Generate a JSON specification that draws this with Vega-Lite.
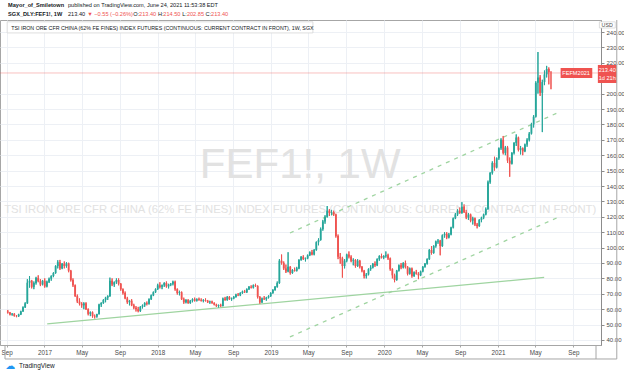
{
"$schema": "https://vega.github.io/schema/vega-lite/v6.json",
"width": 601, "height": 325,
"autosize": "none",
"padding": {"top": 20, "left": 0, "right": 23, "bottom": 30},
"background": "white",
"config": {
"view": {"stroke": "#a6a6a6"}, "font": "Liberation Sans",
"axisY": {"grid": true, "gridColor": "#edf0f5", "domainColor": "#8c8c8c", "tickColor": "#8c8c8c", "tickSize": 3, "labelFont": "Liberation Sans", "labelFontSize": 6, "labelColor": "#4a4a4a", "labelPadding": 2, "labelOverlap": false, "labelFlush": false},
"axisX": {"grid": true, "gridColor": "#edf0f5", "domainColor": "#a6a6a6", "tickColor": "#a6a6a6", "tickSize": 2, "labelFont": "Liberation Sans", "labelFontSize": 6.3, "labelColor": "#4a4a4a", "labelPadding": 2, "labelOverlap": false, "labelFlush": false}
},
"datasets": {
"candles": [
{"d":"2016-09-05","o":58.5,"h":59.5,"l":57.2,"c":57.8},
{"d":"2016-09-12","o":57.8,"h":58.2,"l":56.0,"c":56.5},
{"d":"2016-09-19","o":56.5,"h":57.5,"l":55.8,"c":57.0},
{"d":"2016-09-26","o":57.0,"h":57.4,"l":55.2,"c":55.6},
{"d":"2016-10-03","o":55.6,"h":56.2,"l":54.8,"c":55.4},
{"d":"2016-10-10","o":55.4,"h":57.0,"l":55.0,"c":56.6},
{"d":"2016-10-17","o":56.6,"h":59.0,"l":56.2,"c":58.6},
{"d":"2016-10-24","o":58.6,"h":61.8,"l":58.2,"c":61.2},
{"d":"2016-10-31","o":61.2,"h":64.5,"l":60.8,"c":63.8},
{"d":"2016-11-07","o":63.8,"h":79.5,"l":63.5,"c":77.2},
{"d":"2016-11-14","o":77.2,"h":81.5,"l":74.0,"c":78.5},
{"d":"2016-11-21","o":78.5,"h":79.0,"l":73.5,"c":74.5},
{"d":"2016-11-28","o":74.5,"h":78.0,"l":73.0,"c":77.0},
{"d":"2016-12-05","o":77.0,"h":81.0,"l":76.0,"c":80.2},
{"d":"2016-12-12","o":80.2,"h":82.0,"l":77.5,"c":78.2},
{"d":"2016-12-19","o":78.2,"h":79.5,"l":75.0,"c":76.0},
{"d":"2016-12-26","o":76.0,"h":79.0,"l":75.5,"c":78.5},
{"d":"2017-01-02","o":78.5,"h":80.0,"l":74.0,"c":74.8},
{"d":"2017-01-09","o":74.8,"h":78.5,"l":74.2,"c":77.8},
{"d":"2017-01-16","o":77.8,"h":80.5,"l":77.0,"c":79.8},
{"d":"2017-01-23","o":79.8,"h":82.0,"l":78.5,"c":81.5},
{"d":"2017-01-30","o":81.5,"h":84.0,"l":80.8,"c":83.5},
{"d":"2017-02-06","o":83.5,"h":88.5,"l":83.0,"c":88.0},
{"d":"2017-02-13","o":88.0,"h":91.8,"l":86.5,"c":90.5},
{"d":"2017-02-20","o":90.5,"h":92.0,"l":85.5,"c":86.5},
{"d":"2017-02-27","o":86.5,"h":90.0,"l":86.0,"c":89.5},
{"d":"2017-03-06","o":89.5,"h":91.0,"l":86.5,"c":88.0},
{"d":"2017-03-13","o":88.0,"h":90.5,"l":87.0,"c":89.8},
{"d":"2017-03-20","o":89.8,"h":90.2,"l":84.0,"c":85.0},
{"d":"2017-03-27","o":85.0,"h":85.5,"l":78.0,"c":79.0},
{"d":"2017-04-03","o":79.0,"h":80.0,"l":74.5,"c":75.5},
{"d":"2017-04-10","o":75.5,"h":76.0,"l":68.0,"c":68.5},
{"d":"2017-04-17","o":68.5,"h":69.5,"l":64.0,"c":65.0},
{"d":"2017-04-24","o":65.0,"h":67.0,"l":62.5,"c":63.5},
{"d":"2017-05-01","o":63.5,"h":64.5,"l":61.0,"c":62.5},
{"d":"2017-05-08","o":62.5,"h":64.5,"l":60.0,"c":63.8},
{"d":"2017-05-15","o":63.8,"h":64.5,"l":59.5,"c":60.0},
{"d":"2017-05-22","o":60.0,"h":60.5,"l":56.0,"c":57.0},
{"d":"2017-05-29","o":57.0,"h":58.5,"l":55.5,"c":58.0},
{"d":"2017-06-05","o":58.0,"h":58.5,"l":54.5,"c":55.5},
{"d":"2017-06-12","o":55.5,"h":56.5,"l":54.0,"c":55.2},
{"d":"2017-06-19","o":55.2,"h":57.0,"l":54.5,"c":56.8},
{"d":"2017-06-26","o":56.8,"h":63.5,"l":56.5,"c":63.0},
{"d":"2017-07-03","o":63.0,"h":64.5,"l":61.5,"c":64.0},
{"d":"2017-07-10","o":64.0,"h":66.5,"l":63.5,"c":66.0},
{"d":"2017-07-17","o":66.0,"h":68.0,"l":64.5,"c":67.5},
{"d":"2017-07-24","o":67.5,"h":69.0,"l":66.0,"c":68.5},
{"d":"2017-07-31","o":68.5,"h":80.5,"l":68.0,"c":78.5},
{"d":"2017-08-07","o":78.5,"h":80.0,"l":75.0,"c":76.0},
{"d":"2017-08-14","o":76.0,"h":78.0,"l":74.5,"c":77.5},
{"d":"2017-08-21","o":77.5,"h":80.0,"l":76.5,"c":79.0},
{"d":"2017-08-28","o":79.0,"h":80.0,"l":75.5,"c":76.5},
{"d":"2017-09-04","o":76.5,"h":77.0,"l":72.0,"c":73.0},
{"d":"2017-09-11","o":73.0,"h":73.5,"l":69.5,"c":70.5},
{"d":"2017-09-18","o":70.5,"h":71.5,"l":66.5,"c":67.0},
{"d":"2017-09-25","o":67.0,"h":68.0,"l":63.5,"c":64.5},
{"d":"2017-10-02","o":64.5,"h":66.0,"l":62.5,"c":65.5},
{"d":"2017-10-09","o":65.5,"h":66.5,"l":62.0,"c":62.5},
{"d":"2017-10-16","o":62.5,"h":63.5,"l":60.0,"c":61.0},
{"d":"2017-10-23","o":61.0,"h":62.0,"l":58.5,"c":60.0},
{"d":"2017-10-30","o":60.0,"h":61.5,"l":58.0,"c":58.8},
{"d":"2017-11-06","o":58.8,"h":62.0,"l":58.2,"c":61.5},
{"d":"2017-11-13","o":61.5,"h":63.0,"l":60.5,"c":62.5},
{"d":"2017-11-20","o":62.5,"h":64.5,"l":61.5,"c":64.0},
{"d":"2017-11-27","o":64.0,"h":65.0,"l":62.5,"c":63.5},
{"d":"2017-12-04","o":63.5,"h":67.0,"l":63.0,"c":66.5},
{"d":"2017-12-11","o":66.5,"h":69.5,"l":66.0,"c":69.0},
{"d":"2017-12-18","o":69.0,"h":71.5,"l":68.5,"c":71.0},
{"d":"2017-12-25","o":71.0,"h":73.5,"l":70.5,"c":73.0},
{"d":"2018-01-01","o":73.0,"h":76.5,"l":72.5,"c":75.5},
{"d":"2018-01-08","o":75.5,"h":77.5,"l":73.5,"c":74.5},
{"d":"2018-01-15","o":74.5,"h":76.0,"l":73.0,"c":75.5},
{"d":"2018-01-22","o":75.5,"h":77.5,"l":74.5,"c":77.0},
{"d":"2018-01-29","o":77.0,"h":78.0,"l":74.0,"c":74.8},
{"d":"2018-02-05","o":74.8,"h":76.5,"l":73.5,"c":76.0},
{"d":"2018-02-12","o":76.0,"h":77.0,"l":75.0,"c":76.5},
{"d":"2018-02-19","o":76.5,"h":78.5,"l":75.5,"c":77.8},
{"d":"2018-02-26","o":77.8,"h":78.5,"l":72.0,"c":73.0},
{"d":"2018-03-05","o":73.0,"h":73.5,"l":69.5,"c":70.5},
{"d":"2018-03-12","o":70.5,"h":72.0,"l":69.0,"c":71.0},
{"d":"2018-03-19","o":71.0,"h":71.5,"l":66.0,"c":66.5},
{"d":"2018-03-26","o":66.5,"h":67.5,"l":63.5,"c":64.5},
{"d":"2018-04-02","o":64.5,"h":66.5,"l":63.8,"c":66.0},
{"d":"2018-04-09","o":66.0,"h":66.5,"l":63.5,"c":64.0},
{"d":"2018-04-16","o":64.0,"h":66.0,"l":63.5,"c":65.5},
{"d":"2018-04-23","o":65.5,"h":67.0,"l":64.5,"c":66.5},
{"d":"2018-04-30","o":66.5,"h":67.5,"l":65.0,"c":65.5},
{"d":"2018-05-07","o":65.5,"h":67.0,"l":65.0,"c":66.5},
{"d":"2018-05-14","o":66.5,"h":67.5,"l":65.5,"c":66.0},
{"d":"2018-05-21","o":66.0,"h":67.0,"l":65.0,"c":65.5},
{"d":"2018-05-28","o":65.5,"h":66.5,"l":64.5,"c":66.0},
{"d":"2018-06-04","o":66.0,"h":67.0,"l":65.0,"c":65.5},
{"d":"2018-06-11","o":65.5,"h":66.0,"l":64.0,"c":64.5},
{"d":"2018-06-18","o":64.5,"h":65.5,"l":63.5,"c":65.0},
{"d":"2018-06-25","o":65.0,"h":65.5,"l":63.5,"c":64.0},
{"d":"2018-07-02","o":64.0,"h":64.5,"l":62.5,"c":63.0},
{"d":"2018-07-09","o":63.0,"h":63.5,"l":61.5,"c":62.0},
{"d":"2018-07-16","o":62.0,"h":63.0,"l":61.0,"c":62.5},
{"d":"2018-07-23","o":62.5,"h":63.5,"l":61.5,"c":62.0},
{"d":"2018-07-30","o":62.0,"h":67.5,"l":61.8,"c":67.0},
{"d":"2018-08-06","o":67.0,"h":68.0,"l":65.5,"c":66.0},
{"d":"2018-08-13","o":66.0,"h":68.5,"l":65.5,"c":68.0},
{"d":"2018-08-20","o":68.0,"h":68.5,"l":66.0,"c":66.5},
{"d":"2018-08-27","o":66.5,"h":67.5,"l":65.5,"c":67.0},
{"d":"2018-09-03","o":67.0,"h":68.5,"l":66.5,"c":68.0},
{"d":"2018-09-10","o":68.0,"h":70.0,"l":67.5,"c":69.5},
{"d":"2018-09-17","o":69.5,"h":70.5,"l":68.5,"c":69.0},
{"d":"2018-09-24","o":69.0,"h":71.0,"l":68.5,"c":70.5},
{"d":"2018-10-01","o":70.5,"h":72.0,"l":70.0,"c":71.5},
{"d":"2018-10-08","o":71.5,"h":72.5,"l":70.5,"c":71.0},
{"d":"2018-10-15","o":71.0,"h":73.5,"l":70.5,"c":73.0},
{"d":"2018-10-22","o":73.0,"h":75.0,"l":72.5,"c":74.5},
{"d":"2018-10-29","o":74.5,"h":75.5,"l":73.5,"c":74.0},
{"d":"2018-11-05","o":74.0,"h":76.0,"l":73.5,"c":75.5},
{"d":"2018-11-12","o":75.5,"h":76.5,"l":74.5,"c":75.0},
{"d":"2018-11-19","o":75.0,"h":75.5,"l":67.0,"c":68.0},
{"d":"2018-11-26","o":68.0,"h":68.5,"l":63.5,"c":64.5},
{"d":"2018-12-03","o":64.5,"h":67.5,"l":64.0,"c":67.0},
{"d":"2018-12-10","o":67.0,"h":68.5,"l":66.0,"c":66.5},
{"d":"2018-12-17","o":66.5,"h":68.0,"l":65.5,"c":67.5},
{"d":"2018-12-24","o":67.5,"h":69.0,"l":67.0,"c":68.5},
{"d":"2018-12-31","o":68.5,"h":71.0,"l":68.0,"c":70.5},
{"d":"2019-01-07","o":70.5,"h":73.0,"l":70.0,"c":72.5},
{"d":"2019-01-14","o":72.5,"h":75.0,"l":72.0,"c":74.5},
{"d":"2019-01-21","o":74.5,"h":78.0,"l":74.0,"c":77.0},
{"d":"2019-01-28","o":77.0,"h":92.5,"l":76.5,"c":91.5},
{"d":"2019-02-04","o":91.5,"h":95.5,"l":89.0,"c":90.0},
{"d":"2019-02-11","o":90.0,"h":91.0,"l":85.5,"c":86.5},
{"d":"2019-02-18","o":86.5,"h":89.0,"l":83.5,"c":84.5},
{"d":"2019-02-25","o":84.5,"h":97.0,"l":84.0,"c":87.5},
{"d":"2019-03-04","o":87.5,"h":88.0,"l":82.5,"c":83.5},
{"d":"2019-03-11","o":83.5,"h":86.0,"l":83.0,"c":85.5},
{"d":"2019-03-18","o":85.5,"h":87.0,"l":84.5,"c":85.0},
{"d":"2019-03-25","o":85.0,"h":87.5,"l":84.5,"c":86.5},
{"d":"2019-04-01","o":86.5,"h":92.5,"l":86.0,"c":92.0},
{"d":"2019-04-08","o":92.0,"h":94.5,"l":91.5,"c":94.0},
{"d":"2019-04-15","o":94.0,"h":95.0,"l":92.0,"c":92.5},
{"d":"2019-04-22","o":92.5,"h":93.5,"l":91.0,"c":93.0},
{"d":"2019-04-29","o":93.0,"h":95.5,"l":92.5,"c":95.0},
{"d":"2019-05-06","o":95.0,"h":97.5,"l":94.5,"c":97.0},
{"d":"2019-05-13","o":97.0,"h":98.5,"l":95.0,"c":95.5},
{"d":"2019-05-20","o":95.5,"h":99.0,"l":95.0,"c":98.5},
{"d":"2019-05-27","o":98.5,"h":104.0,"l":98.0,"c":103.5},
{"d":"2019-06-03","o":103.5,"h":106.0,"l":101.5,"c":105.0},
{"d":"2019-06-10","o":105.0,"h":113.0,"l":104.5,"c":112.0},
{"d":"2019-06-17","o":112.0,"h":118.0,"l":111.0,"c":117.0},
{"d":"2019-06-24","o":117.0,"h":121.0,"l":115.5,"c":120.0},
{"d":"2019-07-01","o":120.0,"h":127.0,"l":119.5,"c":124.0},
{"d":"2019-07-08","o":124.0,"h":125.0,"l":120.5,"c":122.5},
{"d":"2019-07-15","o":122.5,"h":124.5,"l":121.0,"c":123.0},
{"d":"2019-07-22","o":123.0,"h":124.0,"l":120.5,"c":121.5},
{"d":"2019-07-29","o":121.5,"h":122.0,"l":106.5,"c":107.5},
{"d":"2019-08-05","o":107.5,"h":108.5,"l":92.5,"c":94.0},
{"d":"2019-08-12","o":94.0,"h":96.5,"l":89.5,"c":93.0},
{"d":"2019-08-19","o":93.0,"h":94.0,"l":80.5,"c":88.0},
{"d":"2019-08-26","o":88.0,"h":92.5,"l":86.5,"c":91.5},
{"d":"2019-09-02","o":91.5,"h":96.0,"l":90.5,"c":95.5},
{"d":"2019-09-09","o":95.5,"h":97.5,"l":93.0,"c":94.0},
{"d":"2019-09-16","o":94.0,"h":95.0,"l":90.5,"c":91.5},
{"d":"2019-09-23","o":91.5,"h":93.0,"l":88.5,"c":92.0},
{"d":"2019-09-30","o":92.0,"h":92.5,"l":87.0,"c":88.0},
{"d":"2019-10-07","o":88.0,"h":92.5,"l":87.5,"c":91.5},
{"d":"2019-10-14","o":91.5,"h":92.0,"l":86.5,"c":87.5},
{"d":"2019-10-21","o":87.5,"h":88.0,"l":84.0,"c":85.0},
{"d":"2019-10-28","o":85.0,"h":85.5,"l":80.0,"c":81.5},
{"d":"2019-11-04","o":81.5,"h":83.5,"l":80.0,"c":82.5},
{"d":"2019-11-11","o":82.5,"h":86.5,"l":82.0,"c":86.0},
{"d":"2019-11-18","o":86.0,"h":88.5,"l":85.0,"c":87.0},
{"d":"2019-11-25","o":87.0,"h":90.0,"l":86.5,"c":89.5},
{"d":"2019-12-02","o":89.5,"h":91.0,"l":87.5,"c":88.5},
{"d":"2019-12-09","o":88.5,"h":93.0,"l":88.0,"c":92.5},
{"d":"2019-12-16","o":92.5,"h":95.0,"l":91.5,"c":94.5},
{"d":"2019-12-23","o":94.5,"h":96.0,"l":93.0,"c":93.5},
{"d":"2019-12-30","o":93.5,"h":95.0,"l":92.5,"c":94.5},
{"d":"2020-01-06","o":94.5,"h":97.5,"l":93.5,"c":95.0},
{"d":"2020-01-13","o":95.0,"h":96.0,"l":92.0,"c":93.0},
{"d":"2020-01-20","o":93.0,"h":93.5,"l":85.0,"c":86.0},
{"d":"2020-01-27","o":86.0,"h":86.5,"l":80.0,"c":82.0},
{"d":"2020-02-03","o":82.0,"h":83.0,"l":77.5,"c":79.0},
{"d":"2020-02-10","o":79.0,"h":85.5,"l":78.5,"c":85.0},
{"d":"2020-02-17","o":85.0,"h":89.0,"l":84.5,"c":88.5},
{"d":"2020-02-24","o":88.5,"h":90.0,"l":86.0,"c":87.0},
{"d":"2020-03-02","o":87.0,"h":90.5,"l":86.5,"c":90.0},
{"d":"2020-03-09","o":90.0,"h":91.5,"l":86.5,"c":87.5},
{"d":"2020-03-16","o":87.5,"h":88.0,"l":82.0,"c":83.0},
{"d":"2020-03-23","o":83.0,"h":87.0,"l":82.5,"c":86.5},
{"d":"2020-03-30","o":86.5,"h":87.0,"l":80.5,"c":81.5},
{"d":"2020-04-06","o":81.5,"h":84.5,"l":81.0,"c":84.0},
{"d":"2020-04-13","o":84.0,"h":85.5,"l":82.5,"c":83.0},
{"d":"2020-04-20","o":83.0,"h":84.0,"l":79.5,"c":82.0},
{"d":"2020-04-27","o":82.0,"h":85.0,"l":81.5,"c":84.5},
{"d":"2020-05-04","o":84.5,"h":88.0,"l":84.0,"c":87.5},
{"d":"2020-05-11","o":87.5,"h":90.0,"l":87.0,"c":89.5},
{"d":"2020-05-18","o":89.5,"h":93.0,"l":89.0,"c":92.5},
{"d":"2020-05-25","o":92.5,"h":99.0,"l":92.0,"c":98.5},
{"d":"2020-06-01","o":98.5,"h":101.0,"l":95.5,"c":96.5},
{"d":"2020-06-08","o":96.5,"h":101.5,"l":96.0,"c":101.0},
{"d":"2020-06-15","o":101.0,"h":104.5,"l":100.0,"c":104.0},
{"d":"2020-06-22","o":104.0,"h":105.5,"l":102.5,"c":104.5},
{"d":"2020-06-29","o":104.5,"h":105.0,"l":95.0,"c":101.0},
{"d":"2020-07-06","o":101.0,"h":108.5,"l":100.5,"c":108.0},
{"d":"2020-07-13","o":108.0,"h":110.0,"l":106.5,"c":109.0},
{"d":"2020-07-20","o":109.0,"h":110.0,"l":105.5,"c":106.5},
{"d":"2020-07-27","o":106.5,"h":109.5,"l":106.0,"c":108.5},
{"d":"2020-08-03","o":108.5,"h":113.5,"l":108.0,"c":113.0},
{"d":"2020-08-10","o":113.0,"h":119.5,"l":112.5,"c":119.0},
{"d":"2020-08-17","o":119.0,"h":122.5,"l":118.5,"c":121.5},
{"d":"2020-08-24","o":121.5,"h":125.0,"l":120.5,"c":124.0},
{"d":"2020-08-31","o":124.0,"h":126.0,"l":122.0,"c":122.5},
{"d":"2020-09-07","o":122.5,"h":129.5,"l":122.0,"c":126.5},
{"d":"2020-09-14","o":126.5,"h":128.0,"l":122.5,"c":123.0},
{"d":"2020-09-21","o":123.0,"h":124.5,"l":118.5,"c":119.5},
{"d":"2020-09-28","o":119.5,"h":122.5,"l":118.0,"c":121.5},
{"d":"2020-10-05","o":121.5,"h":122.0,"l":116.5,"c":117.5},
{"d":"2020-10-12","o":117.5,"h":120.0,"l":115.0,"c":119.0},
{"d":"2020-10-19","o":119.0,"h":119.5,"l":114.0,"c":115.0},
{"d":"2020-10-26","o":115.0,"h":116.0,"l":112.5,"c":114.0},
{"d":"2020-11-02","o":114.0,"h":118.5,"l":113.5,"c":118.0},
{"d":"2020-11-09","o":118.0,"h":120.0,"l":116.5,"c":119.5},
{"d":"2020-11-16","o":119.5,"h":122.0,"l":118.5,"c":121.5},
{"d":"2020-11-23","o":121.5,"h":126.0,"l":121.0,"c":125.0},
{"d":"2020-11-30","o":125.0,"h":143.5,"l":124.5,"c":142.5},
{"d":"2020-12-07","o":142.5,"h":149.0,"l":141.5,"c":148.5},
{"d":"2020-12-14","o":148.5,"h":156.0,"l":147.5,"c":155.0},
{"d":"2020-12-21","o":155.0,"h":159.0,"l":150.0,"c":152.0},
{"d":"2020-12-28","o":152.0,"h":158.5,"l":151.5,"c":158.0},
{"d":"2021-01-04","o":158.0,"h":165.0,"l":157.0,"c":164.5},
{"d":"2021-01-11","o":164.5,"h":171.0,"l":163.5,"c":170.0},
{"d":"2021-01-18","o":170.0,"h":172.5,"l":160.5,"c":161.5},
{"d":"2021-01-25","o":161.5,"h":166.0,"l":160.0,"c":165.0},
{"d":"2021-02-01","o":165.0,"h":166.0,"l":155.0,"c":156.5},
{"d":"2021-02-08","o":156.5,"h":158.5,"l":146.0,"c":154.5},
{"d":"2021-02-15","o":154.5,"h":162.0,"l":154.0,"c":161.5},
{"d":"2021-02-22","o":161.5,"h":168.5,"l":160.5,"c":168.0},
{"d":"2021-03-01","o":168.0,"h":173.5,"l":166.0,"c":171.5},
{"d":"2021-03-08","o":171.5,"h":172.0,"l":162.5,"c":163.5},
{"d":"2021-03-15","o":163.5,"h":166.0,"l":160.5,"c":164.5},
{"d":"2021-03-22","o":164.5,"h":165.0,"l":160.0,"c":162.5},
{"d":"2021-03-29","o":162.5,"h":167.5,"l":162.0,"c":167.0},
{"d":"2021-04-05","o":167.0,"h":171.0,"l":165.5,"c":170.0},
{"d":"2021-04-12","o":170.0,"h":175.0,"l":169.0,"c":174.0},
{"d":"2021-04-19","o":174.0,"h":181.0,"l":173.5,"c":180.0},
{"d":"2021-04-26","o":180.0,"h":186.0,"l":178.0,"c":185.0},
{"d":"2021-05-03","o":185.0,"h":208.0,"l":184.5,"c":207.0},
{"d":"2021-05-10","o":207.0,"h":227.0,"l":200.0,"c":210.5},
{"d":"2021-05-17","o":210.5,"h":212.0,"l":198.5,"c":200.5},
{"d":"2021-05-24","o":200.5,"h":209.0,"l":175.0,"c":207.5},
{"d":"2021-05-31","o":207.5,"h":215.0,"l":205.5,"c":212.5},
{"d":"2021-06-07","o":212.5,"h":218.0,"l":210.5,"c":216.0},
{"d":"2021-06-14","o":216.0,"h":217.0,"l":206.0,"c":213.95},
{"d":"2021-06-21","o":213.4,"h":214.5,"l":202.85,"c":213.4}
],
"lines": [
{"kind":"support","d":"2017-01-10","p":50.5},
{"kind":"support","d":"2021-05-30","p":80.6},
{"kind":"upper","d":"2019-03-03","p":109.5},
{"kind":"upper","d":"2021-07-12","p":187.5},
{"kind":"lower","d":"2019-03-03","p":42.0},
{"kind":"lower","d":"2021-07-12","p":119.5}
],
"ann": [
{"k":"wm1","d":"2019-04-05","p":153.6,"t":"FEF1!, 1W"},
{"k":"wm2","d":"2019-04-05","p":124.4,"t":"TSI IRON ORE CFR CHINA (62% FE FINES) INDEX FUTURES (CONTINUOUS: CURRENT CONTRACT IN FRONT)"},
{"k":"hb","d":"2016-09-06","p":257.5,"t":"Mayor_of_Smiletown"},
{"k":"hb","d":"2016-09-06","p":252.0,"t":"SGX_DLY:FEF1!, 1W"},
{"k":"hn","d":"2017-03-18","p":257.5,"t":"published on TradingView.com, June 24, 2021 11:53:38 EDT"},
{"k":"hn","d":"2017-03-18","p":252.0,"t":"213.40"},
{"k":"hn","d":"2017-10-14","p":252.0,"t":"O:"},
{"k":"hn","d":"2018-01-02","p":252.0,"t":"H:"},
{"k":"hn","d":"2018-03-21","p":252.0,"t":"L:"},
{"k":"hn","d":"2018-06-04","p":252.0,"t":"C:"},
{"k":"hr","d":"2017-05-19","p":252.0,"t":"▼ −0.55 (−0.26%)"},
{"k":"hr","d":"2017-11-02","p":252.0,"t":"213.40"},
{"k":"hr","d":"2018-01-19","p":252.0,"t":"214.50"},
{"k":"hr","d":"2018-04-05","p":252.0,"t":"202.85"},
{"k":"hr","d":"2018-06-22","p":252.0,"t":"213.40"},
{"k":"ttl","d":"2016-09-16","p":242.8,"t":"TSI IRON ORE CFR CHINA (62% FE FINES) INDEX FUTURES (CONTINUOUS: CURRENT CONTRACT IN FRONT), 1W, SGX"},
{"k":"wl","d":"2021-09-10","p":213.4,"t":"FEFM2021"},
{"k":"wl","d":"2021-12-19","p":215.5,"t":"213.40"},
{"k":"wl","d":"2021-12-19","p":210.2,"t":"1d 21h"},
{"k":"usd","d":"2021-12-19","p":244.6,"t":"USD"},
{"k":"tv","d":"2016-10-11","p":23.1,"t":"TradingView"},
{"k":"logo","d":"2016-09-13","p":23.3,"t":"☁"}
],
"boxes": [
{"k":"red","d":"2021-07-22","d2":"2021-11-01","p":210.1,"p2":216.7},
{"k":"red","d":"2021-11-19","d2":"2022-01-19","p":206.9,"p2":218.6},
{"k":"usd","d":"2021-11-24","d2":"2022-01-14","p":242.6,"p2":246.6},
{"k":"title","d":"2016-09-03","d2":"2019-05-16","p":239.4,"p2":246.6}
],
"frame": [
{"d":"2016-08-27","d2":"2022-01-19","p":27.66,"p2":27.66},
{"d":"2022-01-19","d2":"2022-01-19","p":27.66,"p2":247.8},
{"d":"2021-11-13","d2":"2021-11-13","p":27.66,"p2":36.75},
{"d":"2016-08-27","d2":"2016-08-27","p":27.66,"p2":36.75}
]
},
"layer": [
{
"data": {"name": "candles"},
"mark": {"type": "rule", "strokeWidth": 1},
"encoding": {
"x": {"field": "d", "type": "temporal", "title": null,
"scale": {"type": "utc", "domain": [{"year": 2016, "month": "aug", "date": 27, "utc": true}, {"year": 2021, "month": "nov", "date": 13, "utc": true}], "nice": false},
"axis": {"title": null, "orient": "bottom",
"values": [
{"year":2016,"month":"sep","date":1,"utc":true},
{"year":2017,"month":"jan","date":1,"utc":true},
{"year":2017,"month":"may","date":1,"utc":true},
{"year":2017,"month":"sep","date":1,"utc":true},
{"year":2018,"month":"jan","date":1,"utc":true},
{"year":2018,"month":"may","date":1,"utc":true},
{"year":2018,"month":"sep","date":1,"utc":true},
{"year":2019,"month":"jan","date":1,"utc":true},
{"year":2019,"month":"may","date":1,"utc":true},
{"year":2019,"month":"sep","date":1,"utc":true},
{"year":2020,"month":"jan","date":1,"utc":true},
{"year":2020,"month":"may","date":1,"utc":true},
{"year":2020,"month":"sep","date":1,"utc":true},
{"year":2021,"month":"jan","date":1,"utc":true},
{"year":2021,"month":"may","date":1,"utc":true},
{"year":2021,"month":"sep","date":1,"utc":true}
],
"labelExpr": "utcmonth(datum.value) == 0 ? utcFormat(datum.value, '%Y') : utcFormat(datum.value, '%b')",
"labelFlush": false, "labelOverlap": false, "labelBound": false}},
"y": {"field": "l", "type": "quantitative", "title": null,
"scale": {"domain": [36.75, 247.8], "nice": false, "zero": false},
"axis": {"title": null, "orient": "right", "values": [40,50,60,70,80,90,100,110,120,130,140,150,160,170,180,190,200,220,230,240], "format": ".2f", "labelOverlap": false}},
"y2": {"field": "h"},
"color": {"condition": {"test": "datum.c > datum.o", "value": "#26a69a"}, "value": "#ef5350"}
}
},
{
"data": {"name": "ann"},
"transform": [{"filter": "datum.k == 'wm1'"}],
"mark": {"type": "text", "fontSize": 42, "font": "Liberation Sans", "color": "#e2e2e2", "align": "center", "baseline": "middle"},
"encoding": {
"x": {"field": "d", "type": "temporal", "title": null},
"y": {"field": "p", "type": "quantitative", "title": null, "axis": {"title": null, "orient": "right", "values": [40,50,60,70,80,90,100,110,120,130,140,150,160,170,180,190,200,220,230,240], "format": ".2f", "labelOverlap": false}},
"text": {"field": "t"}
}
},
{
"data": {"name": "ann"},
"transform": [{"filter": "datum.k == 'wm2'"}],
"mark": {"type": "text", "fontSize": 11.3, "font": "Liberation Sans", "color": "#e2e2e2", "align": "center", "baseline": "middle"},
"encoding": {
"x": {"field": "d", "type": "temporal", "title": null},
"y": {"field": "p", "type": "quantitative", "title": null, "axis": {"title": null, "orient": "right", "values": [40,50,60,70,80,90,100,110,120,130,140,150,160,170,180,190,200,220,230,240], "format": ".2f", "labelOverlap": false}},
"text": {"field": "t"}
}
},
{
"data": {"values": [{"p": 213.4}]},
"mark": {"type": "rule", "color": "#ef5350", "opacity": 0.45, "strokeWidth": 0.8},
"encoding": {
"y": {"field": "p", "type": "quantitative", "title": null, "axis": {"title": null, "orient": "right", "values": [40,50,60,70,80,90,100,110,120,130,140,150,160,170,180,190,200,220,230,240], "format": ".2f", "labelOverlap": false}}
}
},
{
"data": {"name": "lines"},
"transform": [{"filter": "datum.kind == 'support'"}],
"mark": {"type": "line", "color": "#9fd4a0", "strokeWidth": 1.3},
"encoding": {
"x": {"field": "d", "type": "temporal", "title": null},
"y": {"field": "p", "type": "quantitative", "title": null, "axis": {"title": null, "orient": "right", "values": [40,50,60,70,80,90,100,110,120,130,140,150,160,170,180,190,200,220,230,240], "format": ".2f", "labelOverlap": false}}
}
},
{
"data": {"name": "lines"},
"transform": [{"filter": "datum.kind != 'support'"}],
"mark": {"type": "line", "color": "#9fd4a0", "strokeWidth": 1.3, "strokeDash": [4, 5]},
"encoding": {
"x": {"field": "d", "type": "temporal", "title": null},
"y": {"field": "p", "type": "quantitative", "title": null, "axis": {"title": null, "orient": "right", "values": [40,50,60,70,80,90,100,110,120,130,140,150,160,170,180,190,200,220,230,240], "format": ".2f", "labelOverlap": false}},
"detail": {"field": "kind"}
}
},
{
"data": {"name": "candles"},
"mark": {"type": "rule", "strokeWidth": 1},
"encoding": {
"x": {"field": "d", "type": "temporal", "title": null},
"y": {"field": "l", "type": "quantitative", "title": null, "axis": {"title": null, "orient": "right", "values": [40,50,60,70,80,90,100,110,120,130,140,150,160,170,180,190,200,220,230,240], "format": ".2f", "labelOverlap": false}},
"y2": {"field": "h"},
"color": {"condition": {"test": "datum.c > datum.o", "value": "#26a69a"}, "value": "#ef5350"}
}
},
{
"data": {"name": "candles"},
"mark": {"type": "bar", "size": 1.8},
"encoding": {
"x": {"field": "d", "type": "temporal", "title": null},
"y": {"field": "o", "type": "quantitative", "title": null, "axis": {"title": null, "orient": "right", "values": [40,50,60,70,80,90,100,110,120,130,140,150,160,170,180,190,200,220,230,240], "format": ".2f", "labelOverlap": false}},
"y2": {"field": "c"},
"color": {"condition": {"test": "datum.c > datum.o", "value": "#26a69a"}, "value": "#ef5350"}
}
},
{
"data": {"name": "boxes"},
"transform": [{"filter": "datum.k == 'red'"}],
"mark": {"type": "rect", "color": "#ef5350"},
"encoding": {
"x": {"field": "d", "type": "temporal", "title": null},
"x2": {"field": "d2"},
"y": {"field": "p", "type": "quantitative", "title": null, "axis": {"title": null, "orient": "right", "values": [40,50,60,70,80,90,100,110,120,130,140,150,160,170,180,190,200,220,230,240], "format": ".2f", "labelOverlap": false}},
"y2": {"field": "p2"}
}
},
{
"data": {"name": "boxes"},
"transform": [{"filter": "datum.k != 'red'"}],
"mark": {"type": "rect", "fill": "white", "stroke": "#d6d6d6", "strokeWidth": 0.8},
"encoding": {
"x": {"field": "d", "type": "temporal", "title": null},
"x2": {"field": "d2"},
"y": {"field": "p", "type": "quantitative", "title": null, "axis": {"title": null, "orient": "right", "values": [40,50,60,70,80,90,100,110,120,130,140,150,160,170,180,190,200,220,230,240], "format": ".2f", "labelOverlap": false}},
"y2": {"field": "p2"}
}
},
{
"data": {"name": "frame"},
"mark": {"type": "rule", "color": "#a6a6a6", "strokeWidth": 1},
"encoding": {
"x": {"field": "d", "type": "temporal", "title": null},
"x2": {"field": "d2"},
"y": {"field": "p", "type": "quantitative", "title": null, "axis": {"title": null, "orient": "right", "values": [40,50,60,70,80,90,100,110,120,130,140,150,160,170,180,190,200,220,230,240], "format": ".2f", "labelOverlap": false}},
"y2": {"field": "p2"}
}
},
{
"data": {"name": "ann"},
"transform": [{"filter": "datum.k == 'hb'"}],
"mark": {"type": "text", "fontSize": 5.6, "fontWeight": "bold", "font": "Liberation Sans", "color": "#131722", "align": "left", "baseline": "middle"},
"encoding": {
"x": {"field": "d", "type": "temporal", "title": null},
"y": {"field": "p", "type": "quantitative", "title": null, "axis": {"title": null, "orient": "right", "values": [40,50,60,70,80,90,100,110,120,130,140,150,160,170,180,190,200,220,230,240], "format": ".2f", "labelOverlap": false}},
"text": {"field": "t"}
}
},
{
"data": {"name": "ann"},
"transform": [{"filter": "datum.k == 'hn'"}],
"mark": {"type": "text", "fontSize": 5.6, "font": "Liberation Sans", "color": "#131722", "align": "left", "baseline": "middle"},
"encoding": {
"x": {"field": "d", "type": "temporal", "title": null},
"y": {"field": "p", "type": "quantitative", "title": null, "axis": {"title": null, "orient": "right", "values": [40,50,60,70,80,90,100,110,120,130,140,150,160,170,180,190,200,220,230,240], "format": ".2f", "labelOverlap": false}},
"text": {"field": "t"}
}
},
{
"data": {"name": "ann"},
"transform": [{"filter": "datum.k == 'hr'"}],
"mark": {"type": "text", "fontSize": 5.6, "font": "Liberation Sans", "color": "#ef5350", "align": "left", "baseline": "middle"},
"encoding": {
"x": {"field": "d", "type": "temporal", "title": null},
"y": {"field": "p", "type": "quantitative", "title": null, "axis": {"title": null, "orient": "right", "values": [40,50,60,70,80,90,100,110,120,130,140,150,160,170,180,190,200,220,230,240], "format": ".2f", "labelOverlap": false}},
"text": {"field": "t"}
}
},
{
"data": {"name": "ann"},
"transform": [{"filter": "datum.k == 'ttl'"}],
"mark": {"type": "text", "fontSize": 5.3, "font": "Liberation Sans", "color": "#131722", "align": "left", "baseline": "middle"},
"encoding": {
"x": {"field": "d", "type": "temporal", "title": null},
"y": {"field": "p", "type": "quantitative", "title": null, "axis": {"title": null, "orient": "right", "values": [40,50,60,70,80,90,100,110,120,130,140,150,160,170,180,190,200,220,230,240], "format": ".2f", "labelOverlap": false}},
"text": {"field": "t"}
}
},
{
"data": {"name": "ann"},
"transform": [{"filter": "datum.k == 'wl'"}],
"mark": {"type": "text", "fontSize": 5.6, "font": "Liberation Sans", "color": "white", "align": "center", "baseline": "middle"},
"encoding": {
"x": {"field": "d", "type": "temporal", "title": null},
"y": {"field": "p", "type": "quantitative", "title": null, "axis": {"title": null, "orient": "right", "values": [40,50,60,70,80,90,100,110,120,130,140,150,160,170,180,190,200,220,230,240], "format": ".2f", "labelOverlap": false}},
"text": {"field": "t"}
}
},
{
"data": {"name": "ann"},
"transform": [{"filter": "datum.k == 'usd'"}],
"mark": {"type": "text", "fontSize": 5.3, "font": "Liberation Sans", "color": "#4a4a4a", "align": "center", "baseline": "middle"},
"encoding": {
"x": {"field": "d", "type": "temporal", "title": null},
"y": {"field": "p", "type": "quantitative", "title": null, "axis": {"title": null, "orient": "right", "values": [40,50,60,70,80,90,100,110,120,130,140,150,160,170,180,190,200,220,230,240], "format": ".2f", "labelOverlap": false}},
"text": {"field": "t"}
}
},
{
"data": {"name": "ann"},
"transform": [{"filter": "datum.k == 'tv'"}],
"mark": {"type": "text", "fontSize": 6.5, "font": "Liberation Sans", "color": "#131722", "align": "left", "baseline": "middle"},
"encoding": {
"x": {"field": "d", "type": "temporal", "title": null},
"y": {"field": "p", "type": "quantitative", "title": null, "axis": {"title": null, "orient": "right", "values": [40,50,60,70,80,90,100,110,120,130,140,150,160,170,180,190,200,220,230,240], "format": ".2f", "labelOverlap": false}},
"text": {"field": "t"}
}
},
{
"data": {"name": "ann"},
"transform": [{"filter": "datum.k == 'logo'"}],
"mark": {"type": "text", "fontSize": 10, "font": "DejaVu Sans", "color": "#2196f3", "align": "center", "baseline": "middle"},
"encoding": {
"x": {"field": "d", "type": "temporal", "title": null},
"y": {"field": "p", "type": "quantitative", "title": null, "axis": {"title": null, "orient": "right", "values": [40,50,60,70,80,90,100,110,120,130,140,150,160,170,180,190,200,220,230,240], "format": ".2f", "labelOverlap": false}},
"text": {"field": "t"}
}
}
]
}
